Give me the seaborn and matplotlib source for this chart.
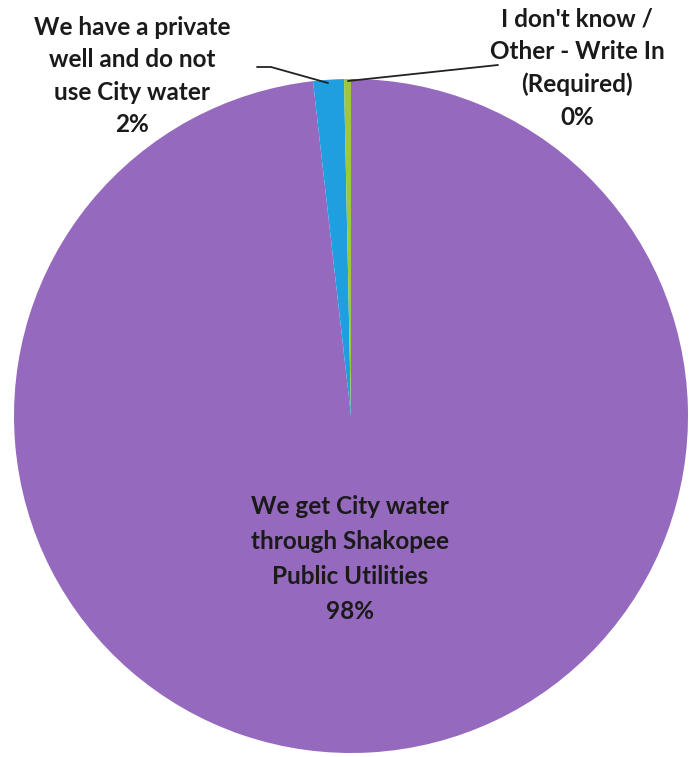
import matplotlib
matplotlib.use("Agg")
import matplotlib.pyplot as plt
import seaborn as sns

sns.set_style("white")
plt.rcParams['font.family'] = ['Lato', 'DejaVu Sans']

categories = ["We get City water\nthrough Shakopee\nPublic Utilities",
              "We have a private\nwell and do not\nuse City water",
              "I don't know /\nOther - Write In\n(Required)"]
values = [98.2, 1.47, 0.33]
pct_labels = ["98%", "2%", "0%"]
colors = ["#9569bd", "#1f9fe0", "#9cc83a"]

W, H = 689, 757
fig = plt.figure(figsize=(W / 100, H / 100), dpi=100)
ax = fig.add_axes([0, 0, 1, 1])

cx, cy, r = 351, H - 416, 337
ax.pie(values, colors=colors, startangle=90, counterclock=False,
       center=(cx, cy), radius=r, frame=True,
       wedgeprops=dict(linewidth=0))
ax.set_xlim(0, W)
ax.set_ylim(0, H)
ax.set_aspect('equal')
ax.axis('off')

fs = 17.5
kw = dict(ha='center', va='center', fontsize=fs, fontweight='bold',
          color='#1a1a1a')
ax.text(350, H - 559, categories[0] + "\n" + pct_labels[0], linespacing=1.62, **kw)
ax.text(132, H - 76, categories[1] + "\n" + pct_labels[1], linespacing=1.5, **kw)
ax.text(577, H - 68, categories[2] + "\n" + pct_labels[2], linespacing=1.5, **kw)

# leader lines
ax.plot([257, 271, 328], [H - 67, H - 67, H - 83], color='#222222', lw=1.3)
ax.plot([348, 498], [H - 81, H - 65], color='#222222', lw=1.3)

fig.savefig("out.png", dpi=100)
